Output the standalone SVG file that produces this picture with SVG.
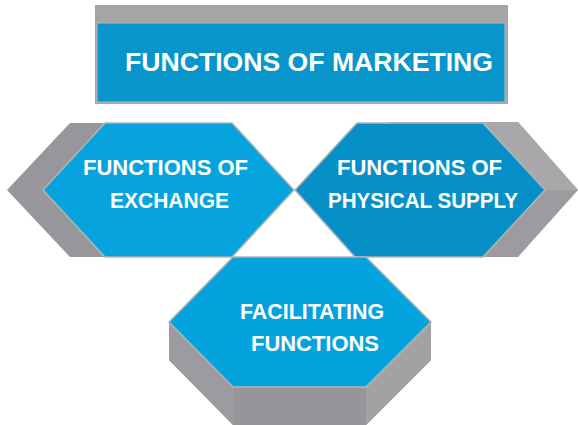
<svg xmlns="http://www.w3.org/2000/svg" width="578" height="425" viewBox="0 0 578 425">
<style>
.lbl{font-family:"Liberation Sans",Arial,sans-serif;font-weight:bold;fill:#ffffff;text-anchor:middle}
.edge{stroke:#b4b4b6;stroke-width:1.5;stroke-linejoin:miter}
</style>
<rect width="578" height="425" fill="#ffffff"/>
<g id="title">
<rect x="95" y="5" width="413" height="99" fill="#a5a5a8"/>
<rect x="97" y="23" width="408" height="79" fill="#0895cb" stroke="#b8b8ba" stroke-width="1"/>
<text class="lbl" x="309" y="71" font-size="26.5" textLength="368" lengthAdjust="spacingAndGlyphs">FUNCTIONS OF MARKETING</text>
</g>
<g id="exchange">
<polygon points="7,190 70,123 197,123 259,190 197,257 70,257" fill="#97979b"/>
<polygon class="edge" points="43,190 105,123 232,123 294,190 232,257 105,257" fill="#06a3de"/>
<text class="lbl" x="165.5" y="175" font-size="22" textLength="165" lengthAdjust="spacingAndGlyphs">FUNCTIONS OF</text>
<text class="lbl" x="169.5" y="208" font-size="22" textLength="119" lengthAdjust="spacingAndGlyphs">EXCHANGE</text>
</g>
<g id="physical">
<polygon points="390,122 518,122 578,190 518,257 390,257" fill="#9c9ca0"/>
<polygon points="390,122 518,122 578,190 483,190" fill="#a8a8ab"/>
<polygon class="edge" points="295,190 357,123 483,123 545,190 483,257 355,257" fill="#0790c8"/>
<text class="lbl" x="419.5" y="175" font-size="22" textLength="165" lengthAdjust="spacingAndGlyphs">FUNCTIONS OF</text>
<text class="lbl" x="423" y="208" font-size="22" textLength="190" lengthAdjust="spacingAndGlyphs">PHYSICAL SUPPLY</text>
</g>
<g id="facilitating">
<polygon points="169,322 169,360 233,425 366,425 431,360 431,322" fill="#96969a"/>
<polygon points="169,322 169,360 233,425 233,387" fill="#9c9ca0"/>
<polygon points="366,387 366,425 431,360 431,322" fill="#a2a2a5"/>
<polygon class="edge" points="169,322 233,257 366,257 431,322 366,387 233,387" fill="#05a3dd"/>
<text class="lbl" x="312" y="318.5" font-size="22" textLength="144" lengthAdjust="spacingAndGlyphs">FACILITATING</text>
<text class="lbl" x="315" y="351" font-size="22" textLength="128" lengthAdjust="spacingAndGlyphs">FUNCTIONS</text>
</g>
<g id="connectors"></g>
</svg>
